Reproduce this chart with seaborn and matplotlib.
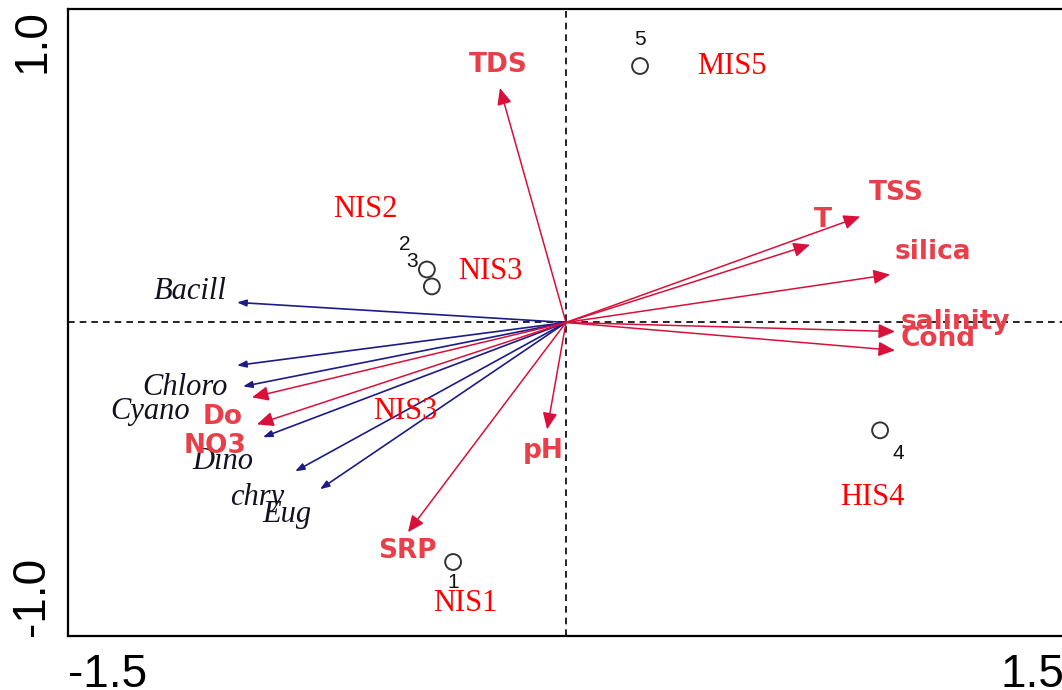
import matplotlib
matplotlib.use("Agg")
import matplotlib.pyplot as plt
import seaborn as sns
import pandas as pd

# Environmental variables (biplot arrow tips)
env_names = ["TDS", "T", "TSS", "silica", "salinity", "Cond", "pH", "SRP", "Do", "NO3"]
env_x = [-0.199, 0.735, 0.886, 0.976, 0.991, 0.991, -0.057, -0.476, -0.946, -0.931]
env_y = [0.748, 0.248, 0.338, 0.153, -0.029, -0.089, -0.341, -0.669, -0.239, -0.325]

# Phytoplankton groups (biplot arrow tips)
sp_names = ["Bacill", "Chloro", "Cyano", "Dino", "chry", "Eug"]
sp_x = [-0.991, -0.991, -0.973, -0.913, -0.816, -0.741]
sp_y = [0.064, -0.137, -0.204, -0.366, -0.475, -0.532]

# Sampling sites
site_ids = ["1", "2", "3", "4", "5"]
site_x = [-0.340, -0.419, -0.404, 0.946, 0.223]
site_y = [-0.764, 0.169, 0.115, -0.344, 0.818]

# Site group annotations
group_names = ["MIS5", "NIS2", "NIS3", "NIS3", "HIS4", "NIS1"]
group_x = [0.50, -0.605, -0.229, -0.485, 0.922, -0.304]
group_y = [0.818, 0.360, 0.162, -0.283, -0.557, -0.895]

# Axis ticks
x_ticks = [-1.5, -1.0, -0.5, 0.0, 0.5, 1.0, 1.5]
x_tick_labels = ["-1.5", "", "", "", "", "", "1.5"]
y_ticks = [-1.0, -0.5, 0.0, 0.5, 1.0]
y_tick_labels = ["-1.0", "", "", "", "1.0"]

sns.set_theme(style="white")
plt.rcParams["font.family"] = ["Liberation Sans", "DejaVu Sans"]

ENV_COLOR = "#d9103a"
ENV_TEXT = "#e8404a"
SP_COLOR = "#1c1c86"
GROUP_COLOR = "#ff0000"
SERIF = ["Liberation Serif", "DejaVu Serif"]

fig = plt.figure(figsize=(10.62, 6.90), dpi=100)
ax = fig.add_axes([0.0640, 0.0783, 0.9379, 0.9087])

# label placement (data units) for arrow labels
env_label_pos = {
    "TDS": (-0.205, 0.822), "T": (0.774, 0.328), "TSS": (0.994, 0.414),
    "silica": (1.105, 0.226), "salinity": (1.172, 0.003), "Cond": (1.12, -0.054),
    "pH": (-0.069, -0.411), "SRP": (-0.479, -0.729), "Do": (-1.033, -0.303),
    "NO3": (-1.057, -0.395),
}
sp_label_pos = {
    "Bacill": (-1.133, 0.099), "Chloro": (-1.148, -0.207), "Cyano": (-1.253, -0.283),
    "Dino": (-1.033, -0.443), "chry": (-0.931, -0.557), "Eug": (-0.840, -0.611),
}
site_label_offset = {"1": (0, -15), "2": (-16, 18), "3": (-14, 18), "4": (13, -17), "5": (0, 19)}

# reference axes
ax.axhline(0, color="black", lw=1.2, ls=(0, (4, 3)), zorder=1)
ax.axvline(0, color="black", lw=1.2, ls=(0, (4, 3)), zorder=1)

# species arrows
for name, x, y in zip(sp_names, sp_x, sp_y):
    ax.annotate("", xy=(x, y), xytext=(0, 0),
                arrowprops=dict(arrowstyle="-|>,head_length=0.55,head_width=0.2",
                                color=SP_COLOR, lw=1.2, mutation_scale=10,
                                shrinkA=0, shrinkB=0), zorder=2)
    lx, ly = sp_label_pos[name]
    ax.text(lx, ly, name, color="#111122", fontsize=22, style="italic",
            family=SERIF, ha="center", va="center", zorder=4)

# environmental arrows
for name, x, y in zip(env_names, env_x, env_y):
    ax.annotate("", xy=(x, y), xytext=(0, 0),
                arrowprops=dict(arrowstyle="-|>,head_length=0.5,head_width=0.22",
                                color=ENV_COLOR, lw=1.1, mutation_scale=20,
                                shrinkA=0, shrinkB=0), zorder=3)
    lx, ly = env_label_pos[name]
    ax.text(lx, ly, name, color=ENV_TEXT, fontsize=19, fontweight="bold",
            family=["DejaVu Sans"], ha="center", va="center", zorder=4, clip_on=False)

# sites
sites = pd.DataFrame({"x": site_x, "y": site_y, "site": site_ids})
sns.scatterplot(data=sites, x="x", y="y", ax=ax, marker="o", s=130,
                facecolors="none", edgecolors="#333333", linewidths=1.4,
                legend=False, zorder=5)
for sid, x, y in zip(site_ids, site_x, site_y):
    dx, dy = site_label_offset[sid]
    ax.annotate(sid, xy=(x, y), xytext=(dx, dy), textcoords="offset points",
                ha="center", va="center", fontsize=15, color="#111111", zorder=6)

for name, x, y in zip(group_names, group_x, group_y):
    ax.text(x, y, name, color=GROUP_COLOR, fontsize=22,
            family=SERIF, ha="center", va="center", zorder=6)

ax.set_xlim(-1.5, 1.5)
ax.set_ylim(-1.0, 1.0)
ax.set_xlabel("")
ax.set_ylabel("")
ax.set_xticks(x_ticks)
ax.set_xticklabels(x_tick_labels)
ax.set_yticks(y_ticks)
ax.set_yticklabels(y_tick_labels, rotation=90)
ax.tick_params(axis="both", direction="inout", length=10, width=1.3, colors="black",
               labelsize=33, pad=5)
ax.tick_params(axis="x", pad=7)
for lab in ax.get_xticklabels():
    if lab.get_text() == "-1.5":
        lab.set_ha("left")
    elif lab.get_text() == "1.5":
        lab.set_ha("right")
for lab in ax.get_yticklabels():
    if lab.get_text() == "1.0":
        lab.set_va("top")
    elif lab.get_text() == "-1.0":
        lab.set_va("bottom")

for side in ["left", "top", "bottom"]:
    ax.spines[side].set_color("black")
    ax.spines[side].set_linewidth(1.6)
ax.spines["right"].set_visible(False)
ax.grid(False)

fig.savefig("out.png", dpi=100)
